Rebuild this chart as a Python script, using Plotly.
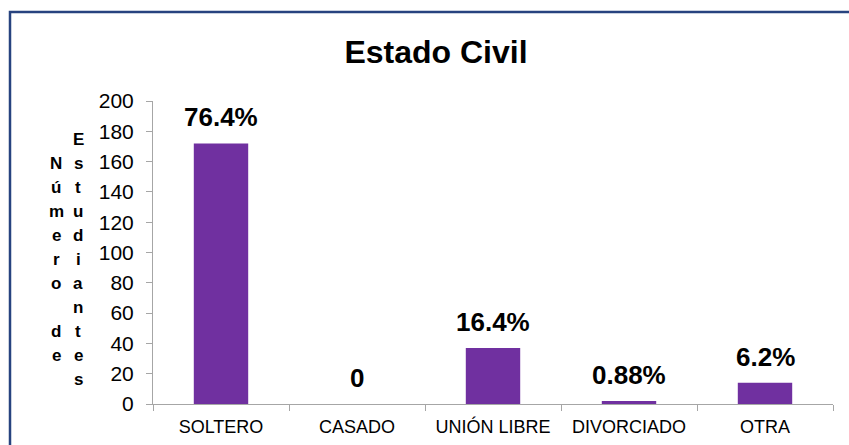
import plotly.graph_objects as go

categories = ["SOLTERO", "CASADO", "UNIÓN LIBRE", "DIVORCIADO", "OTRA"]
counts = [172, 0, 37, 2, 14]
labels = ["76.4%", "0", "16.4%", "0.88%", "6.2%"]
y_ticks = [0, 20, 40, 60, 80, 100, 120, 140, 160, 180, 200]
title_text = "Estado Civil"
ytitle_col1 = "Número de"
ytitle_col2 = "Estudiantes"

W, H = 849, 445
L, R, T, B = 153, 16, 101, 41
PW, PH = W - L - R, H - T - B

def px_x(px):
    return (px - L) / PW

def px_y(py):
    return (H - B - py) / PH

fig = go.Figure()
fig.add_trace(go.Bar(
    x=categories, y=counts, marker_color="#7030A0", width=0.4,
    marker_line_width=0, hoverinfo="skip"))

annotations = []
for c, v, t in zip(categories, counts, labels):
    annotations.append(dict(x=c, y=v, xref="x", yref="y", text="<b>%s</b>" % t, showarrow=False,
                            yanchor="middle", yshift=26,
                            font=dict(family="Arial, Liberation Sans", size=26, color="#000000")))

# stacked vertical axis title (two columns of letters)
for col_text, cx, y0 in [(ytitle_col1, 56, 163), (ytitle_col2, 78, 139)]:
    for i, ch in enumerate(col_text):
        if ch == " ":
            continue
        annotations.append(dict(x=px_x(cx), y=px_y(y0 + i * 24), xref="paper", yref="paper",
                                text="<b>%s</b>" % ch, showarrow=False, xanchor="center", yanchor="middle",
                                font=dict(family="Arial, Liberation Sans", size=17, color="#000000")))

fig.update_layout(
    width=W, height=H,
    margin=dict(l=L, r=R, t=T, b=B, autoexpand=False),
    paper_bgcolor="white", plot_bgcolor="white",
    showlegend=False,
    title=dict(text="<b>%s</b>" % title_text, x=436 / W, xref="container", xanchor="center",
               y=1 - 52 / H, yref="container", yanchor="middle",
               font=dict(family="Arial, Liberation Sans", size=32, color="#000000")),
    annotations=annotations,
    bargap=0.6,
    shapes=[dict(type="rect", xref="paper", yref="paper",
                 x0=px_x(10), x1=px_x(870), y0=px_y(470), y1=px_y(12),
                 line=dict(color="#27437F", width=2.5), fillcolor="rgba(0,0,0,0)", layer="below")],
)

fig.update_xaxes(
    type="category", showgrid=False, showline=True, linecolor="#A6A6A6", linewidth=1,
    ticks="outside", tickson="boundaries", ticklen=6, tickcolor="#A6A6A6",
    tickfont=dict(family="Arial, Liberation Sans", size=18, color="#000000"),
    ticklabelstandoff=6, fixedrange=True)

fig.update_yaxes(
    range=[0, 200], tickvals=y_ticks, showgrid=False, zeroline=False,
    showline=True, linecolor="#A6A6A6", linewidth=1,
    ticks="outside", ticklen=6, tickcolor="#A6A6A6",
    tickfont=dict(family="Arial, Liberation Sans", size=21, color="#000000"),
    ticklabelstandoff=8, fixedrange=True)

fig.write_html("out.html", config={"displayModeBar": False},
               post_script="document.body.style.margin='0';document.body.style.overflow='hidden';")
